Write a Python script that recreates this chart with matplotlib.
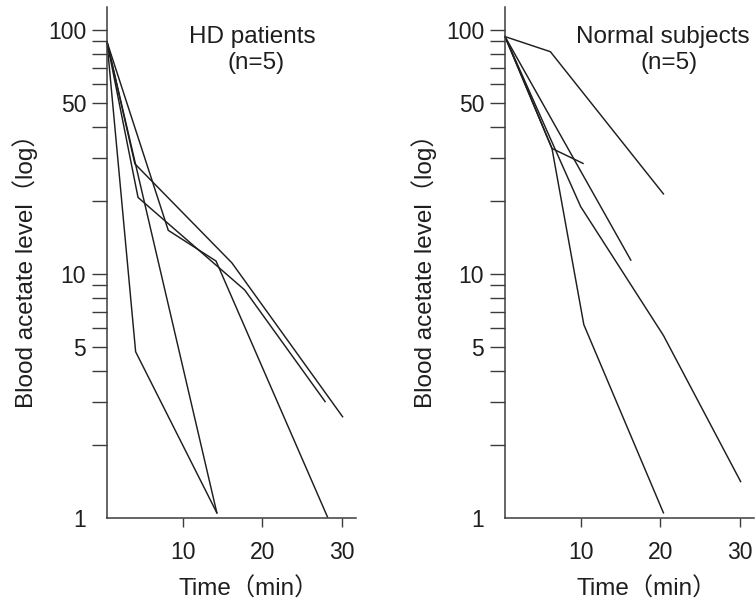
import matplotlib
matplotlib.use("Agg")
import matplotlib.pyplot as plt
from matplotlib.ticker import FixedLocator, NullFormatter

plt.rcParams["font.family"] = ["Liberation Sans", "Noto Sans CJK JP", "DejaVu Sans"]

INK = "#1e1e1e"
AXIS = "#3c3c3c"

# HD patients, time (min) and blood acetate level
hd_times = [
    [0.5, 4.1, 14.3],
    [0.5, 14.3],
    [0.5, 4.0, 16.2, 30.1],
    [0.5, 8.2, 14.2, 28.2],
    [0.5, 4.4, 17.8, 27.9],
]
hd_levels = [
    [89.5, 4.8, 1.05],
    [89.5, 1.05],
    [89.5, 28.3, 11.1, 2.6],
    [89.5, 15.1, 11.3, 1.01],
    [89.5, 20.6, 8.6, 3.0],
]

# Normal subjects
normal_times = [
    [0.5, 6.2, 20.4],
    [0.5, 6.4, 10.3],
    [0.5, 6.4, 10.4, 20.4],
    [0.5, 10.0, 20.4, 30.1],
    [0.5, 16.3],
]
normal_levels = [
    [94, 81.5, 21.3],
    [94, 32.7, 28.4],
    [94, 32.7, 6.2, 1.05],
    [94, 18.9, 5.6, 1.41],
    [94, 11.4],
]

y_major = [1, 5, 10, 50, 100]
y_minor = [2, 3, 4, 6, 7, 8, 9, 20, 30, 40, 60, 70, 80, 90]
x_major = [10, 20, 30]

panels = [
    ("HD patients", hd_times, hd_levels, [0.1417, 0.141, 0.330, 0.847], 0.582, 0.598),
    ("Normal subjects", normal_times, normal_levels, [0.6689, 0.141, 0.330, 0.847], 0.635, 0.659),
]

fig = plt.figure(figsize=(7.55, 6.03), dpi=100)

for title, times, levels, rect, tx, nx in panels:
    ax = fig.add_axes(rect)
    for t, v in zip(times, levels):
        ax.plot(t, v, color=INK, lw=1.05, solid_joinstyle="miter", clip_on=False)

    ax.set_yscale("log")
    ax.set_xlim(0.5, 31.8)
    ax.set_ylim(1, 124)

    ax.yaxis.set_major_locator(FixedLocator(y_major))
    ax.yaxis.set_minor_locator(FixedLocator(y_minor))
    ax.yaxis.set_minor_formatter(NullFormatter())
    ax.set_yticklabels([str(v) for v in y_major])
    ax.set_xticks(x_major)
    ax.set_xticklabels([str(v) for v in x_major])

    for side in ["top", "right"]:
        ax.spines[side].set_visible(False)
    for side in ["left", "bottom"]:
        ax.spines[side].set_color(AXIS)
        ax.spines[side].set_linewidth(1.1)

    ax.tick_params(axis="y", which="both", direction="out", length=11, width=1.0,
                   color=AXIS, labelsize=16.5, labelcolor=INK, pad=4)
    ax.tick_params(axis="x", direction="out", length=6.5, width=1.0,
                   color=AXIS, labelsize=16.5, labelcolor=INK, pad=10)
    ax.yaxis.get_major_ticks()[0].tick1line.set_visible(False)

    ax.set_ylabel("Blood acetate level（log）", fontsize=17.5, color=INK)
    ax.yaxis.set_label_coords(-0.275, 0.495)
    ax.set_xlabel("Time（min）", fontsize=17.5, color=INK)
    ax.xaxis.set_label_coords(0.57, -0.116)

    ax.text(tx, 0.93, title, transform=ax.transAxes, ha="center", va="baseline",
            fontsize=17.5, color=INK, clip_on=False)
    ax.text(nx, 0.88, "(n=5)", transform=ax.transAxes, ha="center", va="baseline",
            fontsize=17.5, color=INK)

fig.savefig("out.png", dpi=100)
